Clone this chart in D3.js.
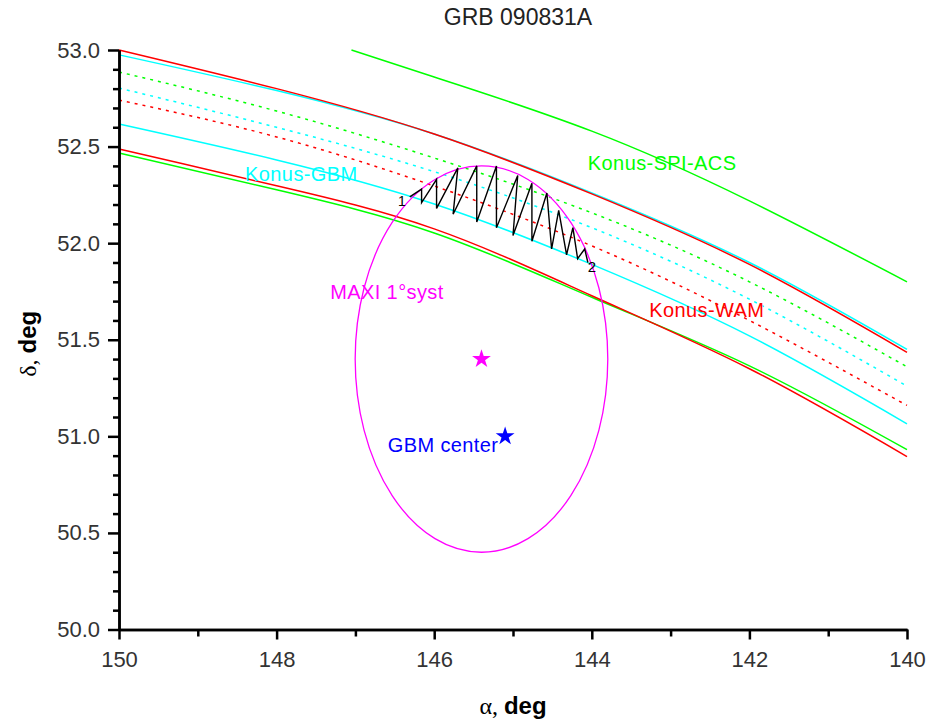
<!DOCTYPE html>
<html>
<head>
<meta charset="utf-8">
<script src="https://cdn.jsdelivr.net/npm/d3@7"></script>
<style>
  body { margin: 0; background: #fff; }
  svg { display: block; font-family: Arial, "Liberation Sans", sans-serif; }
</style>
</head>
<body>
<div id="chart"></div>
<script>
const width = 928, height = 724;
const marginLeft = 119, marginRight = 21, marginTop = 50, marginBottom = 94.5;

// right ascension grid where the annuli were read
const alphaGrid = [150, 148, 146, 144, 142, 140];

// Konus-WAM annulus (solid edges, dotted centre)
const wamUpper = [53.0, 52.80, 52.565, 52.255, 51.89, 51.435];
const wamCenter = [52.741, 52.55, 52.296, 51.986, 51.60, 51.16];
const wamLower = [52.488, 52.297, 52.074, 51.728, 51.35, 50.895];

// Konus-GBM annulus
const gbmUpper = [52.975, 52.79, 52.565, 52.26, 51.90, 51.45];
const gbmCenter = [52.803, 52.60, 52.37, 52.08, 51.71, 51.26];
const gbmLower = [52.617, 52.431, 52.203, 51.89, 51.52, 51.065];

// Konus-SPI-ACS annulus
const spiAlpha = [147.05, 146, 144, 142, 140];
const spiUpper = [53.0, 52.86, 52.58, 52.219, 51.80];
const spiCenter = [52.886, 52.684, 52.441, 52.157, 51.80, 51.36];
const spiLower = [52.467, 52.276, 52.053, 51.72, 51.365, 50.931];

// MAXI error circle and centres
const maxiCenter = [145.4, 51.4];
const maxiRadius = 1.0; // deg, true angle
const gbmCenterPos = [145.1, 51.0];

// hatched intersection region (alpha, delta)
const hatchAlpha = [146.31, 146.16, 146.16, 145.97, 145.97, 145.70, 145.76, 145.46, 145.46,
  145.21, 145.21, 144.94, 145.00, 144.76, 144.76, 144.57, 144.51, 144.42, 144.32, 144.24,
  144.18, 144.09, 144.05];
const hatchDelta = [52.24, 52.28, 52.21, 52.33, 52.18, 52.39, 52.15, 52.40, 52.11,
  52.40, 52.08, 52.35, 52.04, 52.31, 52.01, 52.26, 51.97, 52.17, 51.94, 52.08,
  51.92, 51.97, 51.90];

const xMajor = [150, 148, 146, 144, 142, 140];
const xMinor = [149, 147, 145, 143, 141];
const yMajor = [50.0, 50.5, 51.0, 51.5, 52.0, 52.5, 53.0];
const yMinor = d3.range(501, 530).filter(v => v % 5 !== 0).map(v => v / 10);

const svg = d3.select("#chart").append("svg")
    .attr("width", width)
    .attr("height", height);

const x = d3.scaleLinear()
    .domain([150, 140])
    .range([marginLeft, width - marginRight]);

const y = d3.scaleLinear()
    .domain([50, 53])
    .range([height - marginBottom, marginTop]);

const line = d3.line()
    .x(d => x(d[0]))
    .y(d => y(d[1]))
    .curve(d3.curveNatural);

const series = [
    {alpha: spiAlpha, delta: spiUpper, color: "#00ff00", dash: null},
    {alpha: alphaGrid, delta: spiCenter, color: "#00ff00", dash: "3,5"},
    {alpha: alphaGrid, delta: spiLower, color: "#00ff00", dash: null},
    {alpha: alphaGrid, delta: gbmUpper, color: "#00ffff", dash: null},
    {alpha: alphaGrid, delta: gbmCenter, color: "#00ffff", dash: "3,5"},
    {alpha: alphaGrid, delta: gbmLower, color: "#00ffff", dash: null},
    {alpha: alphaGrid, delta: wamUpper, color: "#ff0000", dash: null},
    {alpha: alphaGrid, delta: wamCenter, color: "#ff0000", dash: "3,5"},
    {alpha: alphaGrid, delta: wamLower, color: "#ff0000", dash: null}
];

svg.append("g")
    .attr("class", "annuli")
    .selectAll("path")
    .data(series)
    .enter().append("path")
    .attr("d", s => line(s.alpha.map((a, i) => [a, s.delta[i]])))
    .attr("fill", "none")
    .attr("stroke", s => s.color)
    .attr("stroke-width", 1.5)
    .attr("stroke-dasharray", s => s.dash);

// MAXI 1 deg circle, stretched in alpha by 1/cos(delta)
const stretch = 1 / Math.cos(maxiCenter[1] * Math.PI / 180);
svg.append("ellipse")
    .attr("cx", x(maxiCenter[0]))
    .attr("cy", y(maxiCenter[1]))
    .attr("rx", Math.abs(x(maxiCenter[0] + maxiRadius * stretch) - x(maxiCenter[0])))
    .attr("ry", Math.abs(y(maxiCenter[1] + maxiRadius) - y(maxiCenter[1])))
    .attr("fill", "none")
    .attr("stroke", "#ff00ff")
    .attr("stroke-width", 1.3);

// hatching
svg.append("path")
    .attr("d", d3.line().x(d => x(d[0])).y(d => y(d[1]))(hatchAlpha.map((a, i) => [a, hatchDelta[i]])))
    .attr("fill", "none")
    .attr("stroke", "#000")
    .attr("stroke-width", 1.4);

// stars
const star = d3.symbol().type(d3.symbolStar).size(110);
svg.append("path")
    .attr("d", star)
    .attr("transform", `translate(${x(maxiCenter[0])},${y(maxiCenter[1])})`)
    .attr("fill", "#ff00ff");
svg.append("path")
    .attr("d", star)
    .attr("transform", `translate(${x(gbmCenterPos[0])},${y(gbmCenterPos[1])})`)
    .attr("fill", "#0000ff");

// labels
const labels = [
    {text: "Konus-GBM", a: 148.40, d: 52.32, color: "#00ffff", size: 20},
    {text: "Konus-SPI-ACS", a: 144.05, d: 52.38, color: "#00ff00", size: 20},
    {text: "Konus-WAM", a: 143.27, d: 51.62, color: "#ff0000", size: 20},
    {text: "MAXI 1°syst", a: 147.32, d: 51.71, color: "#ff00ff", size: 20},
    {text: "GBM center", a: 146.59, d: 50.92, color: "#0000ff", size: 20},
    {text: "1", a: 146.46, d: 52.19, color: "#000", size: 14},
    {text: "2", a: 144.05, d: 51.85, color: "#000", size: 15}
];
svg.append("g")
    .selectAll("text")
    .data(labels)
    .enter().append("text")
    .attr("x", d => x(d.a))
    .attr("y", d => y(d.d))
    .attr("fill", d => d.color)
    .style("font-size", d => d.size + "px")
    .style("letter-spacing", d => d.size > 16 ? "0.4px" : null)
    .text(d => d.text);

// axes
function styleAxis(g) {
    g.selectAll("path.domain").attr("stroke", "#000").attr("stroke-width", 2.5);
    g.selectAll(".tick line").attr("stroke", "#000").attr("stroke-width", 2.5);
    g.selectAll(".tick text").attr("fill", "#333").style("font-size", "22px")
        .style("font-family", "Arial, 'Liberation Sans', sans-serif");
}

svg.append("g")
    .attr("transform", `translate(0,${y(50)})`)
    .call(d3.axisBottom(x).tickValues(xMinor).tickSize(7).tickFormat("").tickSizeOuter(0))
    .call(styleAxis);

svg.append("g")
    .attr("transform", `translate(0,${y(50)})`)
    .call(d3.axisBottom(x).tickValues(xMajor).tickSize(10).tickPadding(12).tickFormat(d3.format("d")).tickSizeOuter(0))
    .call(styleAxis);

svg.append("g")
    .attr("transform", `translate(${x(150)},0)`)
    .call(d3.axisLeft(y).tickValues(yMinor).tickSize(6).tickFormat("").tickSizeOuter(0))
    .call(styleAxis);

svg.append("g")
    .attr("transform", `translate(${x(150)},0)`)
    .call(d3.axisLeft(y).tickValues(yMajor).tickSize(11).tickPadding(8).tickFormat(d3.format(".1f")).tickSizeOuter(0))
    .call(styleAxis);

// title
svg.append("text")
    .attr("x", 518)
    .attr("y", 25)
    .attr("text-anchor", "middle")
    .attr("fill", "#222")
    .style("font-size", "23px")
    .text("GRB 090831A");

// axis titles
const xTitle = svg.append("text")
    .attr("x", (x(150) + x(140)) / 2)
    .attr("y", 714)
    .attr("text-anchor", "middle")
    .style("font-size", "24px");
xTitle.append("tspan").style("font-family", "'Liberation Serif', serif").text("α, ");
xTitle.append("tspan").style("font-weight", "bold").text("deg");

const yTitle = svg.append("text")
    .attr("transform", `translate(36,${y(51.5) + 4}) rotate(-90)`)
    .attr("text-anchor", "middle")
    .style("font-size", "24px");
yTitle.append("tspan").style("font-family", "'Liberation Serif', serif").text("δ, ");
yTitle.append("tspan").style("font-weight", "bold").text("deg");
</script>
</body>
</html>
